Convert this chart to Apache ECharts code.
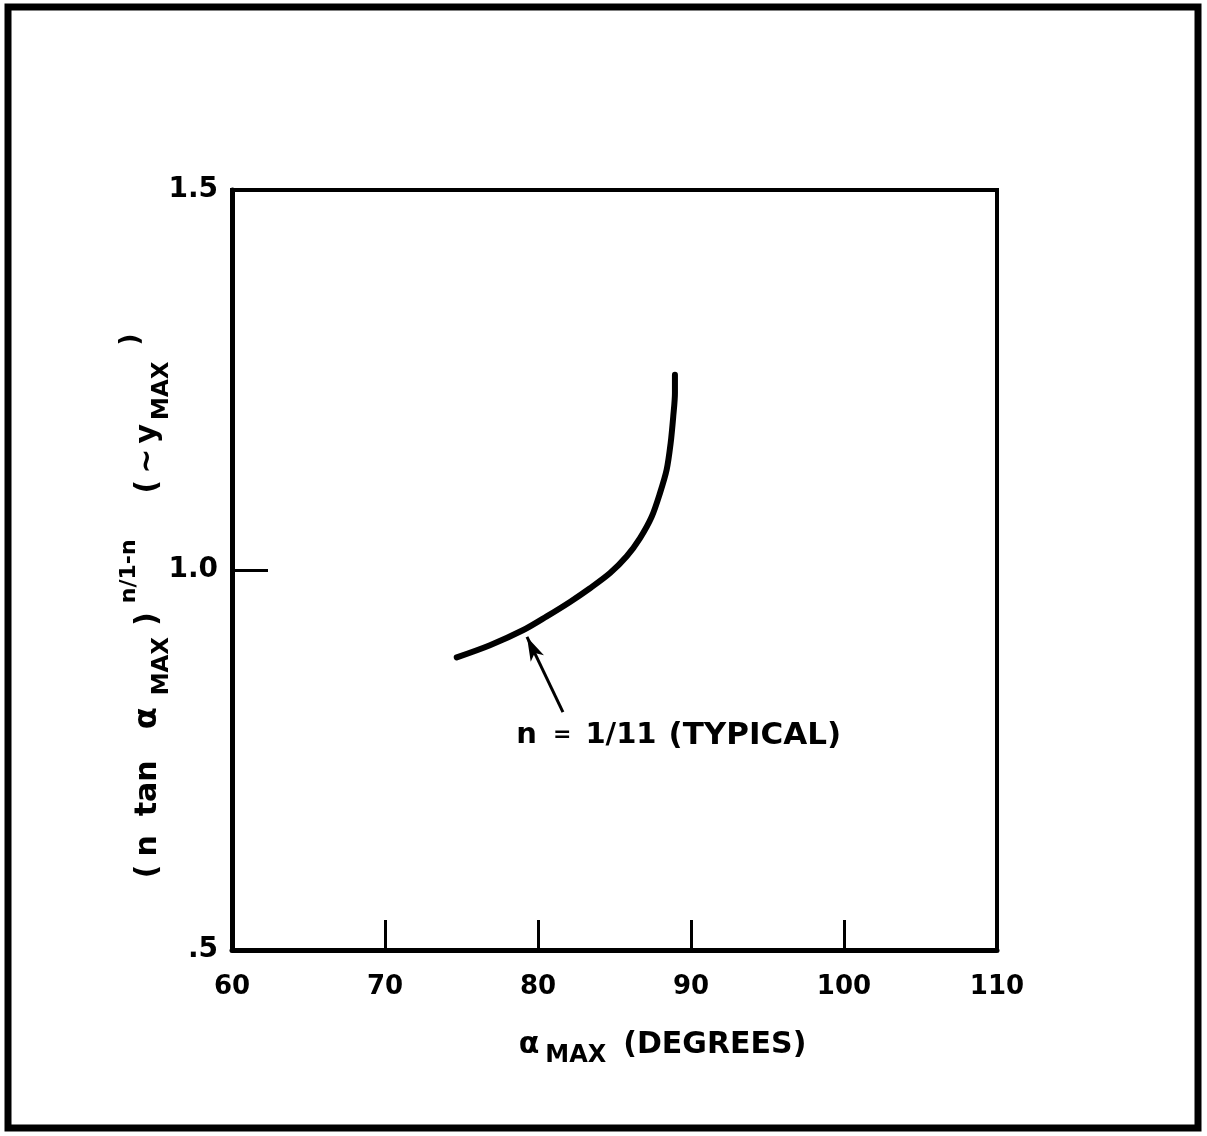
<!DOCTYPE html>
<html>
<head>
<meta charset="utf-8">
<script src="https://cdn.jsdelivr.net/npm/echarts@6/dist/echarts.min.js"></script>
<style>
  html, body { margin: 0; padding: 0; background: #fff; }
  #chart { width: 1207px; height: 1136px; }
</style>
</head>
<body>
<div id="chart"></div>
<script>
// α_MAX (degrees) and the corresponding (n tan α_MAX)^(n/1-n) for n = 1/11
const alphaMax = [74.69, 76.86, 79.04, 80.57, 82.09, 83.40, 84.71, 85.80, 86.67, 87.43, 87.97, 88.41, 88.67, 88.84, 88.95, 88.95];
const yMax     = [0.885, 0.901, 0.921, 0.939, 0.958, 0.976, 0.996, 1.018, 1.042, 1.070, 1.101, 1.132, 1.167, 1.202, 1.233, 1.257];

// axis ticks and labels
const xTickValues = [70, 80, 90, 100];
const yTickValues = [1.0];
const yLabelText = { 0.5: '.5', 1: '1.0', 1.5: '1.5' };

// annotation: leader arrow (tail -> head) and its caption
const arrowTail = [81.63, 0.813];
const arrowHead = [79.28, 0.912];
const captionAt = [89.2, 0.782];

const FONT = 'DejaVu Sans';
const INK = '#000';

// Builds a rich-text string from [text, kind, leftGap, size] pieces; kind picks
// baseline (m), subscript (s) or superscript (p) placement.
function richText(pieces, sizes, lineHeight, subDrop, supRise) {
  const rich = {};
  const parts = pieces.map(([text, kind, gap, size], i) => {
    const key = 'r' + i;
    const fs = size || sizes[kind];
    const style = {
      fontFamily: FONT, fontWeight: 'bold', fontSize: fs, color: INK,
      lineHeight: lineHeight
    };
    if (kind === 's') { style.verticalAlign = 'bottom'; style.padding = [0, 0, subDrop, gap]; }
    else if (kind === 'p') { style.verticalAlign = 'top'; style.padding = [supRise, 0, 0, gap]; }
    else { style.verticalAlign = 'middle'; style.padding = [0, 0, 0, gap]; }
    rich[key] = style;
    return '{' + key + '|' + text + '}';
  });
  return { text: parts.join(''), rich };
}

const xName = richText([
  ['α', 'm', 0, 30],
  ['MAX', 's', 6],
  ['(DEGREES)', 'm', 17]
], { m: 30, s: 24, p: 22 }, 50, 2, 0);

const yName = richText([
  ['(', 'm', 0],
  ['n', 'm', 8],
  ['tan', 'm', 19],
  ['α', 'm', 31, 32],
  ['MAX', 's', 12],
  [')', 'm', 11],
  ['n/1-n', 'p', 9],
  ['(', 'm', 46],
  ['~', 'm', 6],
  ['y', 'm', 5],
  ['MAX', 's', 4],
  [')', 'p', 16, 26]
], { m: 30, s: 23, p: 22 }, 60, 4, 0);

const caption = richText([
  ['n', 'm', 0, 29],
  ['=', 'm', 16, 22],
  ['1/11', 'm', 14, 29],
  ['(TYPICAL)', 'm', 12, 31]
], { m: 30, s: 22, p: 22 }, 40, 0, 0);

const chart = echarts.init(document.getElementById('chart'), null, { renderer: 'canvas' });

chart.setOption({
  animation: false,
  backgroundColor: '#fff',
  graphic: [{
    type: 'rect',
    shape: { x: 8, y: 7, width: 1190, height: 1121 },
    style: { fill: 'none', stroke: INK, lineWidth: 7 },
    silent: true
  }],
  grid: {
    left: 232, right: 210, top: 190, bottom: 186,
    show: true, borderColor: INK, borderWidth: 4, backgroundColor: 'transparent'
  },
  xAxis: {
    type: 'value', min: 60, max: 110, interval: 10,
    axisLine: { show: true, lineStyle: { color: INK, width: 5 } },
    axisTick: { show: true, inside: true, length: 30, customValues: xTickValues,
                lineStyle: { color: INK, width: 3 } },
    axisLabel: { color: INK, fontFamily: FONT, fontWeight: 'bold', fontSize: 26, margin: 24 },
    splitLine: { show: false },
    name: xName.text,
    nameLocation: 'middle',
    nameGap: 70,
    nameMoveOverlap: false,
    nameTextStyle: { padding: [0, 0, 0, 96], rich: xName.rich }
  },
  yAxis: {
    type: 'value', min: 0.5, max: 1.5, interval: 0.5,
    axisLine: { show: true, lineStyle: { color: INK, width: 5 } },
    axisTick: { show: true, inside: true, length: 36, customValues: yTickValues,
                lineStyle: { color: INK, width: 3 } },
    axisLabel: { color: INK, fontFamily: FONT, fontWeight: 'bold', fontSize: 28, margin: 14,
                 formatter: v => yLabelText[v] ?? String(v) },
    splitLine: { show: false },
    name: yName.text,
    nameLocation: 'middle',
    nameRotate: 90,
    nameGap: 54,
    nameMoveOverlap: false,
    nameTextStyle: { padding: [0, 72, 0, 0], rich: yName.rich }
  },
  series: [{
    type: 'line',
    data: alphaMax.map((x, i) => [x, yMax[i]]),
    smooth: 0.3,
    showSymbol: false,
    symbol: 'none',
    lineStyle: { color: INK, width: 6, cap: 'round', join: 'round' },
    silent: true,
    markLine: {
      silent: true,
      symbol: ['none', 'arrow'],
      symbolSize: [11, 24],
      lineStyle: { color: INK, width: 3, type: 'solid' },
      label: { show: false },
      data: [[{ coord: arrowTail }, { coord: arrowHead }]]
    },
    markPoint: {
      silent: true,
      symbol: 'circle',
      symbolSize: 0,
      label: {
        show: true, position: 'inside', color: INK,
        formatter: caption.text, rich: caption.rich
      },
      data: [{ coord: captionAt }]
    }
  }]
});
</script>
</body>
</html>
